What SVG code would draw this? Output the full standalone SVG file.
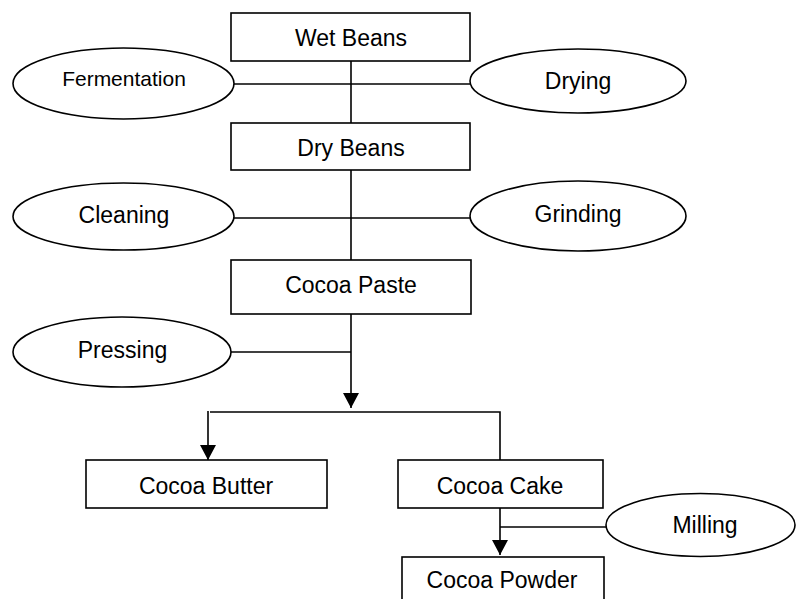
<svg xmlns="http://www.w3.org/2000/svg" width="796" height="599" viewBox="0 0 796 599">
  <style>
    .box { fill: #ffffff; stroke: #000000; stroke-width: 1.6; }
    .step { fill: #ffffff; stroke: #000000; stroke-width: 1.6; }
    .lbl { font-family: "Liberation Sans", Arial, sans-serif; font-size: 23px; fill: #000000; text-anchor: middle; }
    .small { font-size: 21px; }
    .wire { fill: none; stroke: #000000; stroke-width: 1.6; }
  </style>
  <defs>
    <marker id="arrow" markerUnits="userSpaceOnUse" markerWidth="16" markerHeight="16" refX="15" refY="8" orient="auto">
      <path d="M0,0 L15,8 L0,16 Z" fill="#000000"/>
    </marker>
  </defs>
  <rect width="796" height="599" fill="#ffffff"/>

  <!-- connectors -->
  <g id="connectors">
    <line class="wire" x1="351" y1="61" x2="351" y2="123"/>
    <line class="wire" x1="234" y1="84" x2="470" y2="84"/>
    <line class="wire" x1="351" y1="170" x2="351" y2="260"/>
    <line class="wire" x1="234" y1="218" x2="470" y2="218"/>
    <line class="wire" x1="351" y1="314" x2="351" y2="408" marker-end="url(#arrow)"/>
    <line class="wire" x1="231" y1="352" x2="351" y2="352"/>
    <polyline class="wire" points="210,412 500,412 500,460"/>
    <line class="wire" x1="208" y1="411" x2="208" y2="460" marker-end="url(#arrow)"/>
    <line class="wire" x1="500" y1="508" x2="500" y2="555" marker-end="url(#arrow)"/>
    <line class="wire" x1="500" y1="527" x2="606" y2="527"/>
  </g>

  <!-- materials -->
  <g id="wet-beans">
    <rect class="box" x="231" y="13" width="239" height="48"/>
    <text class="lbl" x="351" y="46">Wet Beans</text>
  </g>
  <g id="dry-beans">
    <rect class="box" x="231" y="123" width="239" height="47"/>
    <text class="lbl" x="351" y="156">Dry Beans</text>
  </g>
  <g id="cocoa-paste">
    <rect class="box" x="231" y="260" width="240" height="54"/>
    <text class="lbl" x="351" y="293">Cocoa Paste</text>
  </g>
  <g id="cocoa-butter">
    <rect class="box" x="86" y="460" width="241" height="48"/>
    <text class="lbl" x="206" y="494">Cocoa Butter</text>
  </g>
  <g id="cocoa-cake">
    <rect class="box" x="398" y="460" width="205" height="48"/>
    <text class="lbl" x="500" y="494">Cocoa Cake</text>
  </g>
  <g id="cocoa-powder">
    <rect class="box" x="402" y="557" width="202" height="60"/>
    <text class="lbl" x="502" y="588">Cocoa Powder</text>
  </g>

  <!-- processing steps -->
  <g id="fermentation">
    <ellipse class="step" cx="123.5" cy="83.5" rx="110.5" ry="35.5"/>
    <text class="lbl small" x="124" y="86">Fermentation</text>
  </g>
  <g id="drying">
    <ellipse class="step" cx="578" cy="81" rx="108" ry="32"/>
    <text class="lbl" x="578" y="89">Drying</text>
  </g>
  <g id="cleaning">
    <ellipse class="step" cx="123.5" cy="216.5" rx="110.5" ry="33.5"/>
    <text class="lbl" x="124" y="223">Cleaning</text>
  </g>
  <g id="grinding">
    <ellipse class="step" cx="578" cy="216" rx="108" ry="35"/>
    <text class="lbl" x="578" y="222">Grinding</text>
  </g>
  <g id="pressing">
    <ellipse class="step" cx="122" cy="352" rx="109" ry="35"/>
    <text class="lbl" x="122.5" y="358">Pressing</text>
  </g>
  <g id="milling">
    <ellipse class="step" cx="700.5" cy="525" rx="94.5" ry="31.5"/>
    <text class="lbl" x="705" y="533">Milling</text>
  </g>
</svg>
